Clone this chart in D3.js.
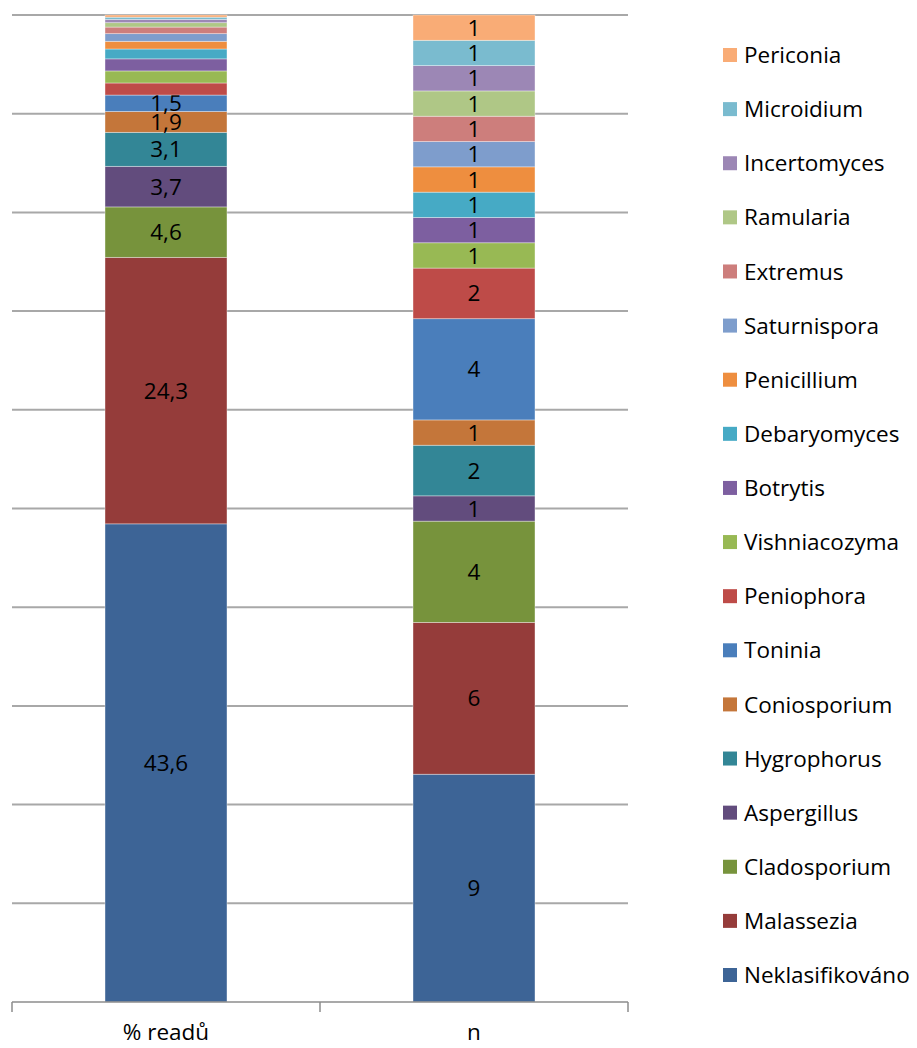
<!DOCTYPE html>
<html>
<head>
<meta charset="utf-8">
<script src="https://cdn.jsdelivr.net/npm/d3@7"></script>
<style>
  html, body { margin: 0; padding: 0; background: #fff; }
  svg { display: block; }
  text { font-family: "Open Sans", "Noto Sans", sans-serif; fill: #000; }
</style>
</head>
<body>
<svg id="chart" width="917" height="1048"></svg>
<script>
// Columns of the stacked chart
const categories = ["% readů", "n"];

// Genera, bottom of the stack first
const genera = [
  "Neklasifikováno", "Malassezia", "Cladosporium", "Aspergillus", "Hygrophorus",
  "Coniosporium", "Toninia", "Peniophora", "Vishniacozyma", "Botrytis",
  "Debaryomyces", "Penicillium", "Saturnispora", "Extremus", "Ramularia",
  "Incertomyces", "Microidium", "Periconia"
];

// Share of reads per genus (%)
const readShare = [43.6, 24.3, 4.6, 3.7, 3.1, 1.9, 1.5, 1.1, 1.1, 1.1, 0.9, 0.7, 0.7, 0.6, 0.4, 0.3, 0.2, 0.2];

// Number of OTUs per genus
const otuCount = [9, 6, 4, 1, 2, 1, 4, 2, 1, 1, 1, 1, 1, 1, 1, 1, 1, 1];

const colors = [
  "#3D6496", "#953C3A", "#77933C", "#624C7D", "#338696",
  "#C4763A", "#4A7EBB", "#BE4B48", "#98B954", "#7D5FA0",
  "#46AAC5", "#EE8E3F", "#7E9DCC", "#CD7E7C", "#AFC786",
  "#9C87B5", "#7ABBCF", "#F9AC76"
];

const rows = categories.map((c, i) => {
  const row = { category: c };
  const vals = i === 0 ? readShare : otuCount;
  genera.forEach((g, j) => { row[g] = vals[j]; });
  return row;
});

const svg = d3.select("#chart");
const plot = { left: 12, right: 628, top: 15, bottom: 1002 };
const fontSize = 22.5;

const x = d3.scaleBand()
  .domain(categories)
  .range([plot.left, plot.right])
  .paddingInner(0.604)
  .paddingOuter(0.302);

const y = d3.scaleLinear().domain([0, 1]).range([plot.bottom, plot.top]);

// Horizontal gridlines every 10 %
svg.append("g")
  .selectAll("line")
  .data(d3.range(0.1, 1.0001, 0.1))
  .join("line")
  .attr("x1", plot.left).attr("x2", plot.right)
  .attr("y1", d => y(d)).attr("y2", d => y(d))
  .attr("stroke", "#A8A8A8").attr("stroke-width", 2);

const stack = d3.stack().keys(genera).offset(d3.stackOffsetExpand);
const layers = stack(rows);
const totals = rows.map(r => d3.sum(genera, g => r[g]));

const layerG = svg.append("g")
  .selectAll("g")
  .data(layers)
  .join("g")
  .attr("fill", (d, i) => colors[i]);

layerG.selectAll("rect")
  .data(d => d.map(p => ({ p, key: d.key })))
  .join("rect")
  .attr("x", d => x(d.p.data.category))
  .attr("width", x.bandwidth())
  .attr("y", d => y(d.p[1]))
  .attr("height", d => y(d.p[0]) - y(d.p[1]))
  .attr("stroke", "rgba(255,255,255,0.45)")
  .attr("stroke-width", 0.8);

// Value labels for segments large enough to hold them
const fmt = (v, ci) => ci === 0 ? v.toFixed(1).replace(".", ",") : String(v);
layerG.selectAll("text")
  .data(d => d.map((p, ci) => ({ p, key: d.key, ci })))
  .join("text")
  .filter(d => d.p.data[d.key] / totals[d.ci] >= 0.015)
  .attr("x", d => x(d.p.data.category) + x.bandwidth() / 2)
  .attr("y", d => (y(d.p[0]) + y(d.p[1])) / 2)
  .attr("dy", "0.36em")
  .attr("text-anchor", "middle")
  .attr("font-size", fontSize)
  .attr("fill", "#000")
  .text(d => fmt(d.p.data[d.key], d.ci));

// Category axis
const axis = svg.append("g");
axis.append("line")
  .attr("x1", plot.left).attr("x2", plot.right)
  .attr("y1", plot.bottom).attr("y2", plot.bottom)
  .attr("stroke", "#8C8C8C").attr("stroke-width", 1.5);
const step = x.step();
axis.selectAll("line.tick")
  .data(d3.range(categories.length + 1))
  .join("line")
  .attr("class", "tick")
  .attr("x1", i => plot.left + i * step).attr("x2", i => plot.left + i * step)
  .attr("y1", plot.bottom).attr("y2", plot.bottom + 10)
  .attr("stroke", "#8C8C8C").attr("stroke-width", 1.5);
axis.selectAll("text")
  .data(categories)
  .join("text")
  .attr("x", c => x(c) + x.bandwidth() / 2)
  .attr("y", 1032)
  .attr("dy", "0.36em")
  .attr("text-anchor", "middle")
  .attr("font-size", fontSize)
  .text(c => c);

// Legend, top item is the top of the stack
const legendItems = genera.map((g, i) => ({ g, c: colors[i] })).reverse();
const legend = svg.append("g");
const ly = d3.scalePoint().domain(legendItems.map(d => d.g)).range([55, 975]);
const li = legend.selectAll("g")
  .data(legendItems)
  .join("g")
  .attr("transform", d => `translate(0,${ly(d.g)})`);
li.append("rect")
  .attr("x", 723).attr("y", -7)
  .attr("width", 14).attr("height", 14)
  .attr("fill", d => d.c);
li.append("text")
  .attr("x", 744)
  .attr("dy", "0.36em")
  .attr("font-size", fontSize)
  .text(d => d.g);
</script>
</body>
</html>
